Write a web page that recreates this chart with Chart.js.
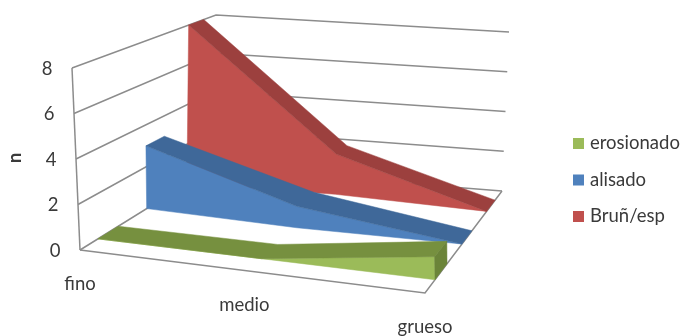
<!DOCTYPE html>
<html>
<head>
<meta charset="utf-8">
<style>
html,body{margin:0;padding:0;background:#fff}
canvas{display:block}
</style>
<script src="https://cdn.jsdelivr.net/npm/chart.js@4"></script>
</head>
<body>
<canvas id="c" width="681" height="336"></canvas>
<script>
// Chart values
const categories = ['fino', 'medio', 'grueso'];
const tickValues = [0, 2, 4, 6, 8];
const erosionado = [0, 0, 1];
const alisado = [3, 1, 0];
const brunEsp = [8, 2, 0];
const axisTitle = 'n';
const legendNames = ['erosionado', 'alisado', 'Bruñ/esp'];

// Series colours: front face, top face
const frontColors = ['#9BBB59', '#4F81BD', '#C0504D'];
const topColors = ['#76903F', '#3F6899', '#9C403E'];
const sideColor = '#6B8439';
const gridColor = '#8C8C8C';
const textColor = '#3A3A3A';
const textFont = '18.5px Lato';

// Depth of each series' front and back edge on the floor, per category
const depthFront = [[0.136, 0.133, 0.13], [0.505, 0.47, 0.48], [0.81, 0.835, 0.80]];
const depthBack = [[0.29, 0.288, 0.286], [0.64, 0.63, 0.61], [0.915, 0.935, 0.91]];
const categoryStops = [0, 0.485, 1];
const valueMax = 8;

// Corners of the 3D box in canvas units: [depth][across][bottom, top]
const box = {
  fl: [[80, 250], [72, 68]],
  fr: [[425, 293], [420, 105]],
  bl: [[212, 168], [216, 15]],
  br: [[502, 191], [509, 32]]
};

const mix = (a, b, t) => a + (b - a) * t;

// Project (across, depth, value) onto the canvas plane
function project(u, v, value) {
  const w = value / valueMax;
  const out = {};
  [['x', 0], ['y', 1]].forEach(([k, i]) => {
    const fl = mix(box.fl[0][i], box.fl[1][i], w);
    const fr = mix(box.fr[0][i], box.fr[1][i], w);
    const bl = mix(box.bl[0][i], box.bl[1][i], w);
    const br = mix(box.br[0][i], box.br[1][i], w);
    out[k] = mix(mix(fl, fr, u), mix(bl, br, u), v);
  });
  return out;
}

const line = (points, color) => ({
  data: points, showLine: true, pointRadius: 0, borderColor: color,
  borderWidth: 1.5, fill: false, tension: 0
});
const face = (points, color) => ({
  data: points.concat([points[0]]), showLine: true, pointRadius: 0,
  borderColor: color, backgroundColor: color, borderWidth: 0.5,
  fill: 'shape', tension: 0
});

// Painted back to front
const layers = [];

// Walls and floor outline
tickValues.forEach(t => {
  layers.push(line([project(0, 0, t), project(0, 1, t), project(1, 1, t)], gridColor));
});
layers.push(line([project(0, 0, 0), project(0, 0, valueMax)], gridColor));
layers.push(line([project(0, 0, 0), project(1, 0, 0), project(1, 1, 0)], gridColor));

// Areas, farthest series first
const seriesList = [erosionado, alisado, brunEsp];
[2, 1, 0].forEach(s => {
  const values = seriesList[s];
  const frontTop = values.map((val, c) => project(categoryStops[c], depthFront[s][c], val));
  const backTop = values.map((val, c) => project(categoryStops[c], depthBack[s][c], val));
  const frontFloor = values.map((val, c) => project(categoryStops[c], depthFront[s][c], 0));
  layers.push(face(frontTop.concat(frontFloor.slice().reverse()), frontColors[s]));
  layers.push(face(frontTop.concat(backTop.slice().reverse()), topColors[s]));
  const last = values.length - 1;
  if (values[last] > 0) {
    const u = categoryStops[last];
    layers.push(face([
      project(u, depthFront[s][last], 0), project(u, depthFront[s][last], values[last]),
      project(u, depthBack[s][last], values[last]), project(u, depthBack[s][last], 0)
    ], sideColor));
  }
});

// Axis labels and key
const labelsPlugin = {
  id: 'labels',
  afterDraw(chart) {
    const { ctx, scales } = chart;
    const px = p => [scales.x.getPixelForValue(p.x), scales.y.getPixelForValue(p.y)];
    ctx.save();
    ctx.font = textFont;
    ctx.fillStyle = textColor;
    ctx.textBaseline = 'middle';
    ctx.textAlign = 'center';
    tickValues.forEach(t => {
      const [x, y] = px(project(0, 0, t));
      ctx.fillText(String(t), x - 25, y + 1);
    });
    categories.forEach((name, c) => {
      const [x, y] = px(project(categoryStops[c], 0, 0));
      ctx.fillText(name, x - (c === 1 ? 3 : 0), y + 34);
    });
    ctx.save();
    ctx.translate(15, 158);
    ctx.rotate(-Math.PI / 2);
    ctx.font = 'bold 18px Lato';
    ctx.fillText(axisTitle, 0, 0);
    ctx.restore();
    ctx.textAlign = 'left';
    legendNames.forEach((name, i) => {
      const y = 143.5 + i * 36.5;
      ctx.fillStyle = frontColors[i];
      ctx.fillRect(573, y - 5.5, 11, 11);
      ctx.fillStyle = textColor;
      ctx.fillText(name, 590, y);
    });
    ctx.restore();
  }
};

new Chart(document.getElementById('c'), {
  type: 'scatter',
  data: { datasets: layers.slice().reverse() },
  options: {
    responsive: false,
    animation: false,
    layout: { padding: 0 },
    scales: {
      x: { type: 'linear', display: false, min: 0, max: 681 },
      y: { type: 'linear', display: false, min: 0, max: 336, reverse: true }
    },
    plugins: { legend: { display: false }, tooltip: { enabled: false } }
  },
  plugins: [labelsPlugin]
});
</script>
</body>
</html>
